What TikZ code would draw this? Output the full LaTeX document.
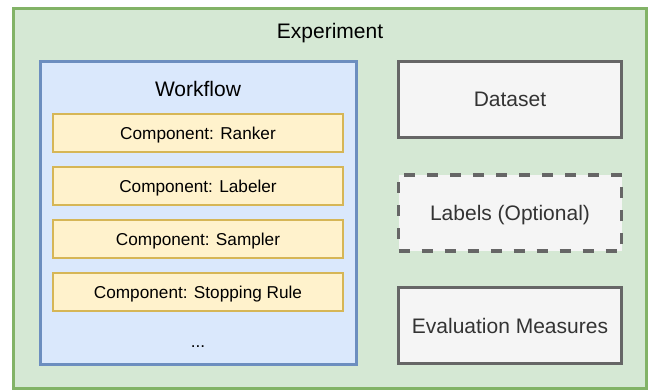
\documentclass[tikz,border=0pt]{standalone}
\usepackage{fontspec}
\setmainfont{Liberation Sans}
\definecolor{gfill}{HTML}{D5E8D4}
\definecolor{gline}{HTML}{82B366}
\definecolor{bfill}{HTML}{DAE8FC}
\definecolor{bline}{HTML}{6C8EBF}
\definecolor{yfill}{HTML}{FFF2CC}
\definecolor{yline}{HTML}{D6B656}
\definecolor{sfill}{HTML}{F5F5F5}
\definecolor{sline}{HTML}{666666}
\definecolor{stext}{HTML}{333333}
\tikzset{
  bigtext/.style={font=\fontsize{21}{25}\selectfont},
  smalltext/.style={font=\fontsize{17.2}{20}\selectfont},
  expbox/.style={draw=gline, fill=gfill, line width=3pt, minimum width=633pt, minimum height=380pt, inner sep=0pt},
  wfbox/.style={draw=bline, fill=bfill, line width=3pt, minimum width=316pt, minimum height=303pt, inner sep=0pt},
  compbox/.style={draw=yline, fill=yfill, line width=2pt, minimum width=290pt, minimum height=38pt, inner sep=0pt, text depth=0pt, smalltext},
  databox/.style={draw=sline, fill=sfill, line width=3.2pt, minimum width=223pt, minimum height=76pt, inner sep=0pt, text depth=0pt, text=stext, bigtext},
  label/.style={inner sep=0pt, anchor=center}
}
\begin{document}
\begin{tikzpicture}[x=1pt,y=-1pt]
\useasboundingbox (0,0) rectangle (652,391);
\fill[white] (0,0) rectangle (652,391);
\node[expbox] (exp) at (330,198.5) {};
\node[label, bigtext] (exptitle) at (330,33) {Experiment};
\node[wfbox] (wf) at (198.25,213) {};
\node[label, bigtext] (wftitle) at (198,89) {Workflow};
\node[compbox] (ranker) at (198,133) {Component: Ranker};
\node[compbox] (labeler) at (198,186) {Component: Labeler};
\node[compbox] (sampler) at (198,239) {Component: Sampler};
\node[compbox] (stopping) at (198,292) {Component: Stopping Rule};
\node[inner sep=0pt, anchor=base, smalltext] (dots) at (198,347) {...};
\node[databox] (dataset) at (510,99.5) {Dataset};
\node[databox, dash pattern=on 11pt off 12pt] (labels) at (510,213) {Labels (Optional)};
\node[databox] (eval) at (510,325.5) {Evaluation Measures};
\end{tikzpicture}
\end{document}
